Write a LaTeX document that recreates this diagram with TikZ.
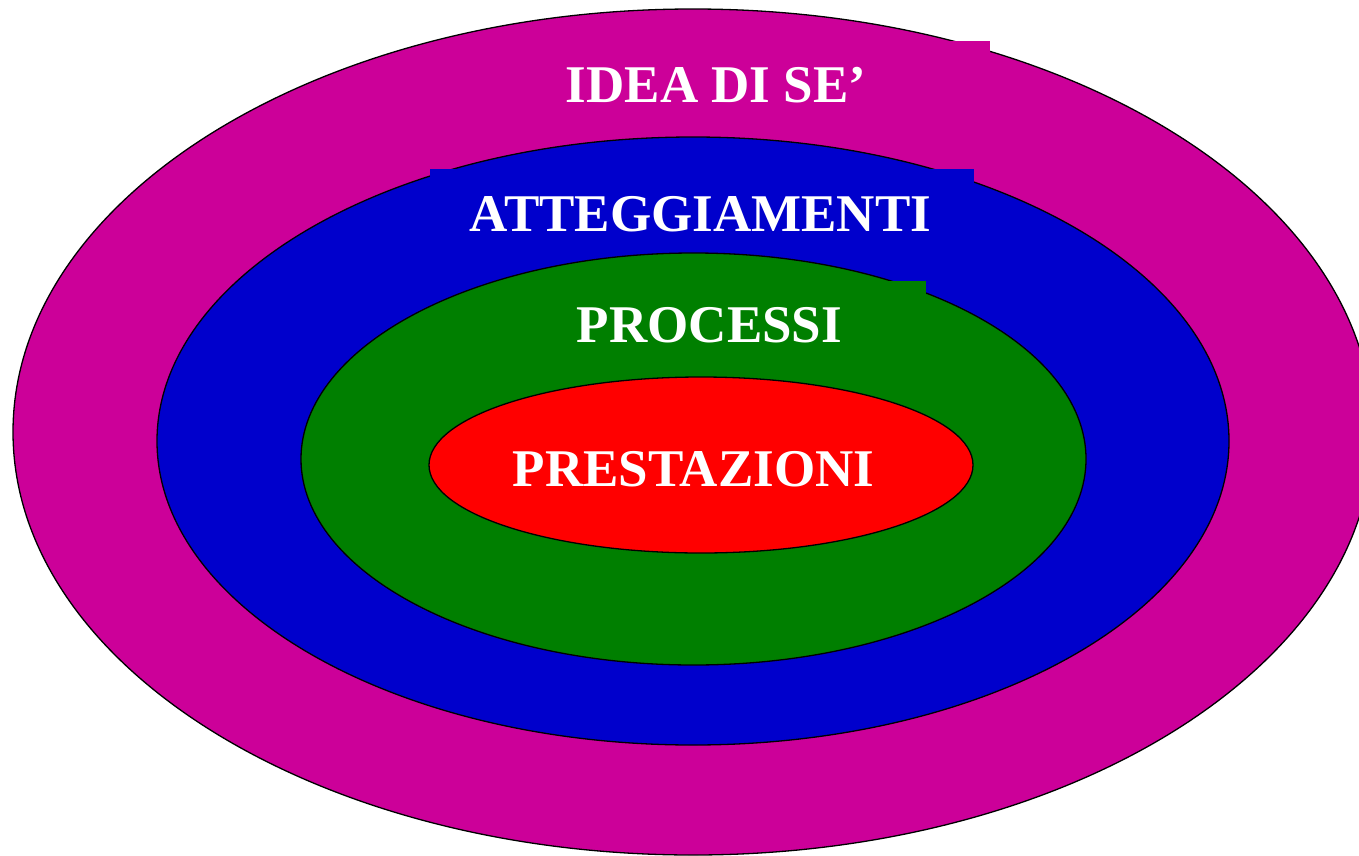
\documentclass[tikz,border=0pt]{standalone}
\usepackage{fontspec}
\setmainfont{Liberation Serif}
\definecolor{ringmagenta}{HTML}{CC0099}
\definecolor{ringblue}{HTML}{0000CC}
\definecolor{ringgreen}{HTML}{007F00}
\definecolor{ringred}{HTML}{FF0000}
\begin{document}
\begin{tikzpicture}[x=1bp,y=-1bp,
  ring/.style={draw=black,line width=1.3bp},
  labeltext/.style={anchor=base,inner sep=0pt,text=white,
    font=\fontsize{53bp}{60bp}\selectfont\bfseries}]
\useasboundingbox (0,0) rectangle (1359,855);
\clip (0,0) rectangle (1359,855);
% outer ring
\fill[white] (0,0) rectangle (1359,855);
\draw[ring,fill=ringmagenta] (693,432) ellipse [x radius=680,y radius=423];
\fill[ringmagenta] (442,41) rectangle (990,130);
% blue ring
\draw[ring,fill=ringblue] (693,441) ellipse [x radius=536,y radius=304];
\fill[ringblue] (430,169) rectangle (974,248);
% green ring
\draw[ring,fill=ringgreen] (693.5,459) ellipse [x radius=392.5,y radius=206];
\fill[ringgreen] (500,281) rectangle (926,370);
% red core
\draw[ring,fill=ringred] (701,465) ellipse [x radius=272,y radius=88];
% labels
\node[labeltext] (idea) at (716,102) {IDEA DI SE’};
\node[labeltext] (att) at (700.5,231) {ATTEGGIAMENTI};
\node[labeltext] (proc) at (709.5,342) {PROCESSI};
\node[labeltext] (prest) at (693.5,486) {PRESTAZIONI};
\end{tikzpicture}
\end{document}
